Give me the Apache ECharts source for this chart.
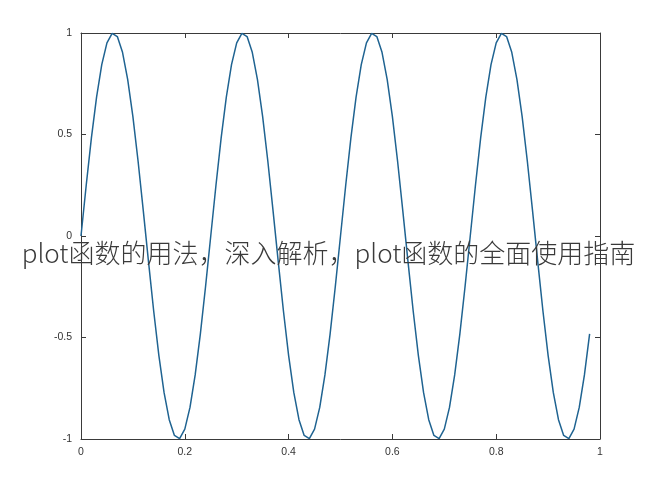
<!DOCTYPE html>
<html>
<head>
<meta charset="utf-8">
<script src="https://cdn.jsdelivr.net/npm/echarts@6/dist/echarts.min.js"></script>
<style>html,body{margin:0;padding:0;background:#fff}#c{width:657px;height:490px}</style>
</head>
<body>
<div id="c"></div>
<script>
var tValues = [0,0.01,0.02,0.03,0.04,0.05,0.06,0.07,0.08,0.09,0.1,0.11,0.12,0.13,0.14,0.15,0.16,0.17,0.18,0.19,0.2,0.21,0.22,0.23,0.24,0.25,0.26,0.27,0.28,0.29,0.3,0.31,0.32,0.33,0.34,0.35,0.36,0.37,0.38,0.39,0.4,0.41,0.42,0.43,0.44,0.45,0.46,0.47,0.48,0.49,0.5,0.51,0.52,0.53,0.54,0.55,0.56,0.57,0.58,0.59,0.6,0.61,0.62,0.63,0.64,0.65,0.66,0.67,0.68,0.69,0.7,0.71,0.72,0.73,0.74,0.75,0.76,0.77,0.78,0.79,0.8,0.81,0.82,0.83,0.84,0.85,0.86,0.87,0.88,0.89,0.9,0.91,0.92,0.93,0.94,0.95,0.96,0.97,0.98];
var yValues = [
0,0.2487,0.4818,0.6845,0.8443,0.9511,0.998,0.9823,0.9048,0.7705,0.5878,0.3681,0.1253,-0.1253,-0.3681,-0.5878,-0.7705,-0.9048,-0.9823,-0.998,-0.9511,-0.8443,-0.6845,-0.4818,-0.2487,
0,0.2487,0.4818,0.6845,0.8443,0.9511,0.998,0.9823,0.9048,0.7705,0.5878,0.3681,0.1253,-0.1253,-0.3681,-0.5878,-0.7705,-0.9048,-0.9823,-0.998,-0.9511,-0.8443,-0.6845,-0.4818,-0.2487,
0,0.2487,0.4818,0.6845,0.8443,0.9511,0.998,0.9823,0.9048,0.7705,0.5878,0.3681,0.1253,-0.1253,-0.3681,-0.5878,-0.7705,-0.9048,-0.9823,-0.998,-0.9511,-0.8443,-0.6845,-0.4818,-0.2487,
0,0.2487,0.4818,0.6845,0.8443,0.9511,0.998,0.9823,0.9048,0.7705,0.5878,0.3681,0.1253,-0.1253,-0.3681,-0.5878,-0.7705,-0.9048,-0.9823,-0.998,-0.9511,-0.8443,-0.6845,-0.4818];
var xTicks = ['0','0.2','0.4','0.6','0.8','1'];
var yTicks = ['-1','-0.5','0','0.5','1'];
var overlayText = 'plot函数的用法，深入解析，plot函数的全面使用指南';

var data = tValues.map(function (t, i) { return [t, yValues[i]]; });
var axisColor = '#3a3a3a';
function fmt(v){ return String(Math.round(v*10)/10); }
function axisBase(extra){
  var o = {
    type: 'value',
    axisLine: { show: true, onZero: false, lineStyle: { color: axisColor, width: 1 } },
    axisTick: { show: true, inside: true, length: 5, lineStyle: { color: axisColor } },
    splitLine: { show: false }
  };
  for (var k in extra) o[k] = extra[k];
  return o;
}
var labelStyle = { color: '#333', fontSize: 10.5, fontFamily: 'Liberation Sans, Arial' };
var chart = echarts.init(document.getElementById('c'));
chart.setOption({
  animation: false,
  grid: { left: 81, right: 57, top: 33, bottom: 51, containLabel: false },
  xAxis: [
    axisBase({ min: 0, max: 1, interval: 0.2, position: 'bottom',
      axisLabel: Object.assign({ margin: 8, formatter: function(v){ var s=fmt(v); return xTicks.indexOf(s)>=0?s:''; } }, labelStyle) }),
    axisBase({ min: 0, max: 1, interval: 0.2, position: 'top', axisLabel: { show: false } })
  ],
  yAxis: [
    axisBase({ min: -1, max: 1, interval: 0.5, position: 'left',
      axisLabel: Object.assign({ margin: 9, formatter: function(v){ var s=fmt(v); return yTicks.indexOf(s)>=0?s:''; } }, labelStyle) }),
    axisBase({ min: -1, max: 1, interval: 0.5, position: 'right', axisLabel: { show: false } })
  ],
  series: [{
    type: 'line', data: data, xAxisIndex: 0, yAxisIndex: 0,
    showSymbol: false, smooth: false,
    lineStyle: { color: '#1f6391', width: 1.5 }
  }],
  graphic: [{
    type: 'text', left: 'center', top: 240, z: 100,
    style: { text: overlayText, fill: '#3a3a3a', font: '300 26px "Noto Sans CJK SC", "Noto Sans", sans-serif' }
  }]
});
</script>
</body>
</html>
